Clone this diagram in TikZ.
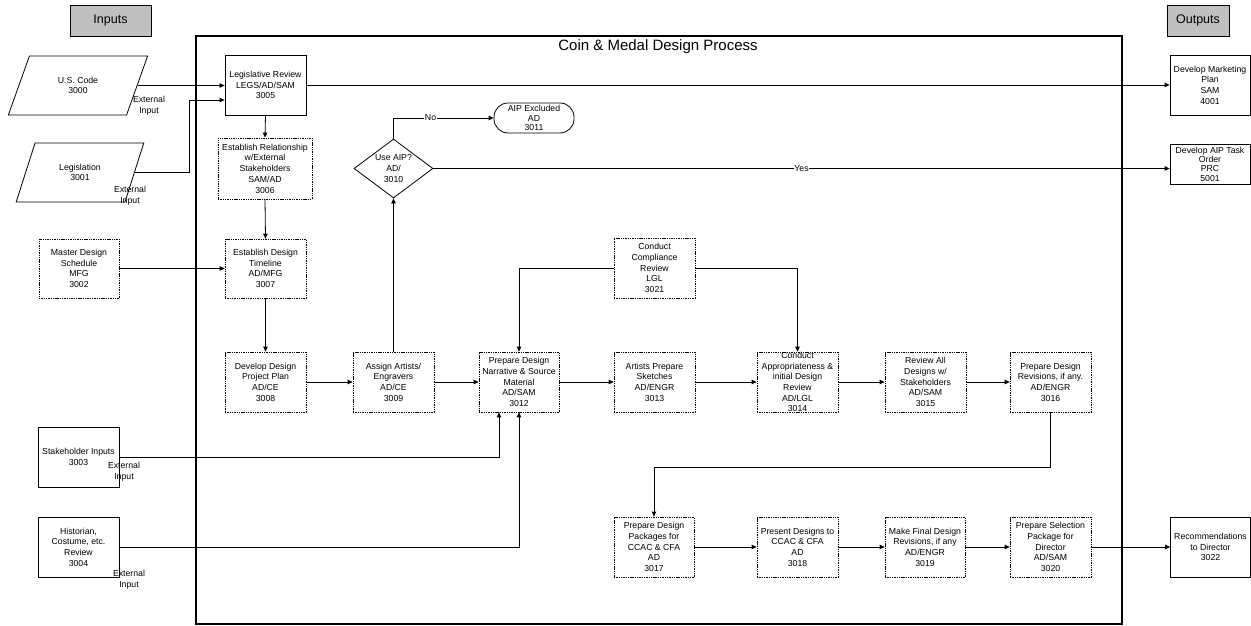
\documentclass[tikz,border=0pt]{standalone}
\usepackage{fontspec}
\setmainfont{Liberation Sans}
\usetikzlibrary{arrows.meta,shapes.geometric}
\definecolor{hdrgray}{RGB}{192,192,192}
\newcommand\fs{\fontsize{8.7}{10.7}\selectfont}
\begin{document}
\begin{tikzpicture}[x=1pt,y=-1pt,
  box/.style={draw, line width=0.8pt, minimum width=81pt, minimum height=60pt, align=center, font=\fs, inner sep=0.5pt},
  dbox/.style={box, line width=0.7pt, dash pattern=on 1.4pt off 0.9pt},
  para/.style={draw, line width=0.8pt, trapezium, trapezium stretches=true, trapezium left angle=63, trapezium right angle=117, minimum height=59pt, align=center, font=\fs, inner sep=0pt},
  hdr/.style={draw, line width=0.8pt, fill=hdrgray, font=\fontsize{12.5}{14}\selectfont, minimum height=31pt},
  ext/.style={align=center, font=\fs, inner sep=0pt},
  lbl/.style={font=\fs, fill=white, inner sep=0.8pt},
  conn/.style={line width=0.8pt, -{Triangle[length=5pt,width=4.5pt]}},
  plain/.style={line width=0.8pt}]
\useasboundingbox (0,0) rectangle (1251,626);
% headers and frame
\node[hdr, minimum width=81pt] (inputs) at (110.5,20.5) {Inputs};
\node[hdr, minimum width=62pt] (outputs) at (1198,20.5) {Outputs};
\draw[line width=1.2pt] (196,36) rectangle (1122,624);
\node[font=\fontsize{15}{18}\selectfont] (title) at (658,46.5) {Coin \& Medal Design Process};
% inputs
\node[para, minimum width=140pt] (uscode) at (78,85.5) {U.S. Code\\3000};
\node[para, minimum width=128pt] (leg) at (80,172.5) {Legislation\\3001};
\node[dbox, minimum width=80pt, minimum height=59pt] (mds) at (79,268.5) {Master Design\\Schedule\\MFG\\3002};
\node[box] (sti) at (78.5,457) {Stakeholder Inputs\\3003};
\node[box] (hist) at (78.5,547) {Historian,\\Costume, etc.\\Review\\3004};
\node[ext] (ext1) at (149,106) {External\\Input};
\node[ext] (ext2) at (130,196) {External\\Input};
\node[ext] (ext3) at (124,472) {External\\Input};
\node[ext] (ext4) at (129,580) {External\\Input};
% process
\node[box] (lr) at (265.5,85) {Legislative Review\\LEGS/AD/SAM\\3005};
\node[dbox, minimum width=94pt, minimum height=61pt] (er) at (265,168.5) {Establish Relationship\\w/External\\Stakeholders\\SAM/AD\\3006};
\node[dbox, minimum height=59pt] (edt) at (265.5,268.5) {Establish Design\\Timeline\\AD/MFG\\3007};
\node[dbox] (ddp) at (265.5,382) {Develop Design\\Project Plan\\AD/CE\\3008};
\node[dbox] (aae) at (393.5,382) {Assign Artists/\\Engravers\\AD/CE\\3009};
\node[draw, line width=0.8pt, diamond, shape aspect=1.34, minimum width=79pt, minimum height=59pt, inner sep=0pt, align=center, font=\fs] (dia) at (393.5,168.5) {Use AIP?\\AD/\\3010};
\node[draw, line width=0.8pt, rounded corners=14pt, minimum width=80pt, minimum height=30pt, inner sep=0pt, align=center, font=\fontsize{8.7}{9.2}\selectfont] (aipx) at (534,118) {AIP Excluded\\AD\\3011};
\node[dbox, minimum width=80pt] (pdn) at (519,382) {Prepare Design\\Narrative \& Source\\Material\\AD/SAM\\3012};
\node[dbox] (aps) at (654.5,382) {Artists Prepare\\Sketches\\AD/ENGR\\3013};
\node[dbox] (ccr) at (654.5,268) {Conduct\\Compliance\\Review\\LGL\\3021};
\node[dbox] (cai) at (797.5,382) {};
\node[ext] (caitxt) at (797.5,382) {Conduct\\Appropriateness \&\\initial Design\\Review\\AD/LGL\\3014};
\node[dbox] (rds) at (925.5,382) {Review All\\Designs w/\\Stakeholders\\AD/SAM\\3015};
\node[dbox] (pdr) at (1050.5,382) {Prepare Design\\Revisions, if any.\\AD/ENGR\\3016};
\node[dbox, minimum width=80pt] (pdp) at (654,547) {Prepare Design\\Packages for\\CCAC \& CFA\\AD\\3017};
\node[dbox] (pdt) at (797.5,547) {Present Designs to\\CCAC \& CFA\\AD\\3018};
\node[dbox, minimum width=80pt] (mfd) at (925,547) {Make Final Design\\Revisions, if any\\AD/ENGR\\3019};
\node[dbox] (psp) at (1050.5,547) {Prepare Selection\\Package for\\Director\\AD/SAM\\3020};
% outputs
\node[box, minimum width=80pt] (dmp) at (1210,85) {Develop Marketing\\Plan\\SAM\\4001};
\node[box, minimum width=80pt, minimum height=40pt, font=\fontsize{8.7}{9.3}\selectfont] (aipto) at (1210,164) {Develop AIP Task\\Order\\PRC\\5001};
\node[box, minimum width=80pt] (rtd) at (1210.5,547) {Recommendations\\to Director\\3022};
% connectors
\draw[conn] (uscode.east) -- (uscode.east -| lr.west);
\draw[conn] (leg.east) -- ++(55,0) |- ([yshift=-15pt]lr.west);
\draw[conn] (lr.east) -- (dmp.west);
\draw[conn] (lr.south) -- (er.north);
\draw[conn] (er.south) -- (edt.north);
\draw[conn] (mds.east) -- (edt.west);
\draw[conn] (edt.south) -- (ddp.north);
\draw[conn] (ddp.east) -- (aae.west);
\draw[conn] (aae.north) -- (dia.south);
\draw[conn] (dia.north) |- node[lbl, pos=0.685] (nolbl) {No} (aipx.west);
\draw[conn] (dia.east) -- node[lbl, pos=0.5] (yeslbl) {Yes} (dia.east -| aipto.west);
\draw[conn] (aae.east) -- (pdn.west);
\draw[conn] (pdn.east) -- (aps.west);
\draw[conn] (aps.east) -- (cai.west);
\draw[conn] (cai.east) -- (rds.west);
\draw[conn] (rds.east) -- (pdr.west);
\draw[conn] (ccr.west) -| (pdn.north);
\draw[conn] (ccr.east) -| (cai.north);
\draw[conn] (pdr.south) -- ++(0,55) -| (pdp.north);
\draw[conn] (pdp.east) -- (pdt.west);
\draw[conn] (pdt.east) -- (mfd.west);
\draw[conn] (mfd.east) -- (psp.west);
\draw[conn] (psp.east) -- (rtd.west);
\draw[conn] (sti.east) -| ([xshift=-20pt]pdn.south);
\draw[conn] (hist.east) -| (pdn.south);
\end{tikzpicture}
\end{document}
